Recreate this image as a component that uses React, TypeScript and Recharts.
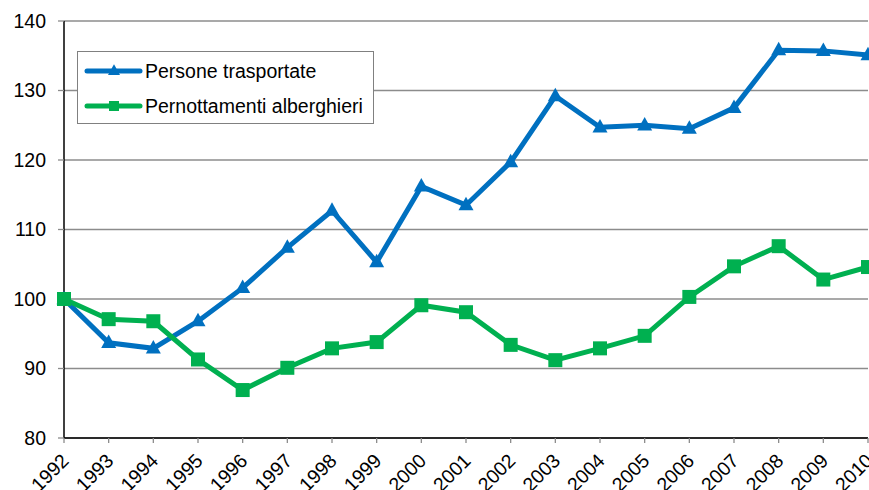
import { LineChart, Line, XAxis, YAxis, CartesianGrid } from 'recharts';

const years = [
  '1992', '1993', '1994', '1995', '1996', '1997', '1998', '1999', '2000', '2001',
  '2002', '2003', '2004', '2005', '2006', '2007', '2008', '2009', '2010',
];

const persone = [
  100, 93.7, 92.9, 96.8, 101.6, 107.4, 112.7, 105.3, 116.2, 113.5,
  119.7, 129.2, 124.7, 125.0, 124.5, 127.5, 135.8, 135.7, 135.1,
];

const pernottamenti = [
  100, 97.1, 96.8, 91.3, 86.9, 90.1, 92.9, 93.8, 99.1, 98.1,
  93.4, 91.2, 92.9, 94.7, 100.3, 104.7, 107.6, 102.8, 104.6,
];

const yTicks = [80, 90, 100, 110, 120, 130, 140];

const BLUE = '#0070C0';
const GREEN = '#00B050';
const FONT = '"Liberation Sans", Arial, sans-serif';

const data = years.map((year, i) => ({
  year,
  persone: persone[i],
  pernottamenti: pernottamenti[i],
}));

const series = [
  { key: 'persone', name: 'Persone trasportate', color: BLUE, shape: 'triangle' },
  { key: 'pernottamenti', name: 'Pernottamenti alberghieri', color: GREEN, shape: 'square' },
];

const Triangle = (props: any) => {
  const { cx, cy, fill, size = 14 } = props;
  if (cx == null || cy == null) return null;
  const h = size * 0.9;
  return (
    <polygon
      points={`${cx},${cy - h * 0.62} ${cx - size / 2},${cy + h * 0.38} ${cx + size / 2},${cy + h * 0.38}`}
      fill={fill}
    />
  );
};

const Square = (props: any) => {
  const { cx, cy, fill, size = 14 } = props;
  if (cx == null || cy == null) return null;
  return <rect x={cx - size / 2} y={cy - size / 2} width={size} height={size} fill={fill} />;
};

const YearTick = (props: any) => {
  const { x, y, payload } = props;
  return (
    <g transform={`translate(${x + 6},${y + 17})`}>
      <text
        x={0}
        y={0}
        textAnchor="end"
        transform="rotate(-45)"
        fontSize={19.5}
        fontFamily={FONT}
        fill="#000"
      >
        {payload.value}
      </text>
    </g>
  );
};

// legend box drawn over the plot, like the original
const LegendBox = () => (
  <div
    style={{
      position: 'absolute',
      left: 77,
      top: 51,
      border: '1px solid #808080',
      background: '#fff',
      width: 297,
      height: 73,
      boxSizing: 'border-box',
      fontFamily: FONT,
      fontSize: 19.5,
      color: '#000',
      paddingTop: 4,
    }}
  >
    {series.map((s) => (
      <div key={s.key} style={{ display: 'flex', alignItems: 'center', height: 30, marginBottom: 5 }}>
        <svg width={67} height={20} style={{ flex: 'none' }}>
          <line x1={9} y1={10} x2={62} y2={10} stroke={s.color} strokeWidth={5} strokeLinecap="round" />
          {s.shape === 'triangle' ? (
            <Triangle cx={36} cy={10} fill={s.color} size={12} />
          ) : (
            <Square cx={36} cy={10} fill={s.color} size={10} />
          )}
        </svg>
        <span style={{ whiteSpace: 'nowrap' }}>{s.name}</span>
      </div>
    ))}
  </div>
);

export default function App() {
  return (
    <div style={{ position: 'absolute', left: 0, top: 0, width: 869, height: 490, background: '#fff' }}>
      <LineChart width={869} height={490} data={data} margin={{ top: 21, right: 1, left: 0, bottom: 0 }}>
        <CartesianGrid vertical={false} stroke="#8c8c8c" strokeWidth={1.3} />
        <XAxis
          dataKey="year"
          height={52}
          interval={0}
          axisLine={{ stroke: '#000', strokeWidth: 1.5 }}
          tickLine={{ stroke: '#8c8c8c', strokeWidth: 1.3 }}
          tickSize={5}
          tick={<YearTick />}
        />
        <YAxis
          width={64}
          domain={[80, 140]}
          ticks={yTicks}
          interval={0}
          axisLine={{ stroke: '#000', strokeWidth: 1.5 }}
          tickLine={{ stroke: '#8c8c8c', strokeWidth: 1.3 }}
          tickSize={6}
          tickMargin={12}
          tick={{ fontSize: 19.5, fontFamily: FONT, fill: '#000' }}
        />
        <Line
          type="linear"
          dataKey="persone"
          name="Persone trasportate"
          stroke={BLUE}
          strokeWidth={5}
          dot={<Triangle fill={BLUE} size={15} />}
          activeDot={false}
          isAnimationActive={false}
        />
        <Line
          type="linear"
          dataKey="pernottamenti"
          name="Pernottamenti alberghieri"
          stroke={GREEN}
          strokeWidth={5}
          dot={<Square fill={GREEN} size={14} />}
          activeDot={false}
          isAnimationActive={false}
        />
      </LineChart>
      <LegendBox />
    </div>
  );
}
